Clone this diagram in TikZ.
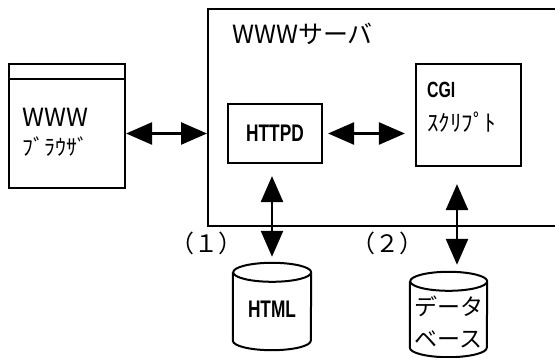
\documentclass[tikz,border=0pt]{standalone}
\usepackage{fontspec}
\usepackage{graphicx}
\setmainfont{Noto Sans CJK JP}
\newfontfamily\latinbold{Liberation Sans}
\usetikzlibrary{arrows.meta}

% bold, horizontally condensed Latin labels
\newcommand\narrowbold[1]{\scalebox{0.72}[1]{\latinbold\bfseries #1}}
\newcommand\fs[1]{\fontsize{#1}{#1}\selectfont}

% drum (cylinder) outline around an invisible rectangular node
% #1 node name, #2 half width
\newcommand\drum[2]{%
  \draw[drumline]
    ([yshift=-9.5]#1.north west) -- ([yshift=9.5]#1.south west)
    arc[start angle=180,end angle=360,x radius=#2,y radius=9.5]
    -- ([yshift=-9.5]#1.north east)
    arc[start angle=0,end angle=180,x radius=#2,y radius=9.5]
    arc[start angle=180,end angle=360,x radius=#2,y radius=9.5];}

\begin{document}
\begin{tikzpicture}[x=1pt,y=1pt,
  frame/.style={draw,line width=2.2pt,inner sep=0pt},
  drumline/.style={line width=2pt,line join=round},
  slot/.style={inner sep=0pt},
  txt/.style={inner sep=0pt},
  link/.style={line width=2.6pt,
    {Triangle[length=26pt,width=22pt]}-{Triangle[length=26pt,width=22pt]}}]
\useasboundingbox (0,0) rectangle (555,358);
\clip (0,0) rectangle (555,358);

% browser window
\node[frame,minimum width=116,minimum height=124] (browser) at (67,232) {};
\draw[line width=2.2pt] ([yshift=-16]browser.north west) -- ([yshift=-16]browser.north east);
\node[txt,anchor=west,font=\fs{25}] (browserwww) at (22,241) {WWW};
\node[txt,anchor=west,font=\fs{22}] (browsername) at (22,211) {ﾌﾞﾗｳｻﾞ};

% server frame
\node[frame,anchor=north west,minimum width=360,minimum height=217] (server) at (207,350) {};
\node[txt,anchor=west,font=\fs{25}] (servertitle) at (232,324) {WWWサーバ};

% processes inside the server
\node[frame,minimum width=94,minimum height=59,font=\fs{24}] (httpd) at (275,224.5) {\narrowbold{HTTPD}};
\node[frame,minimum width=105,minimum height=102] (cgi) at (468.5,243) {};
\node[txt,anchor=west,font=\fs{22}] (cginame) at (427,268) {\narrowbold{CGI}};
\node[txt,anchor=west,font=\fs{23}] (cgiscript) at (427,236) {ｽｸﾘﾌﾟﾄ};

% storage
\node[slot,minimum width=78,minimum height=87] (html) at (272,51.5) {};
\drum{html}{39}
\node[txt,font=\fs{24}] (htmltext) at (272,49) {\narrowbold{HTML}};

\node[slot,minimum width=77,minimum height=85] (db) at (448.5,43.5) {};
\drum{db}{38.5}
\node[txt,font=\fs{23}] (dbtop) at (448.5,52) {データ};
\node[txt,font=\fs{23}] (dbbottom) at (448.5,19) {ベース};

% connectors
\draw[link] (browser.east |- httpd) -- (server.west |- httpd);
\draw[link,shorten <=5pt,shorten >=10pt] (httpd.east) -- (cgi.west |- httpd.east);
\draw[link,shorten <=12pt,shorten >=6pt] (httpd.south -| html.north) -- (html.north);
\draw[link,shorten <=17pt,shorten >=7pt] ([xshift=-11.5]cgi.south) -- ([xshift=8.5]db.north);

% access paths
\node[txt,font=\fs{24}] (pathone) at (206.5,115) {（１）};
\node[txt,font=\fs{24}] (pathtwo) at (387.5,115) {（２）};
\end{tikzpicture}
\end{document}
